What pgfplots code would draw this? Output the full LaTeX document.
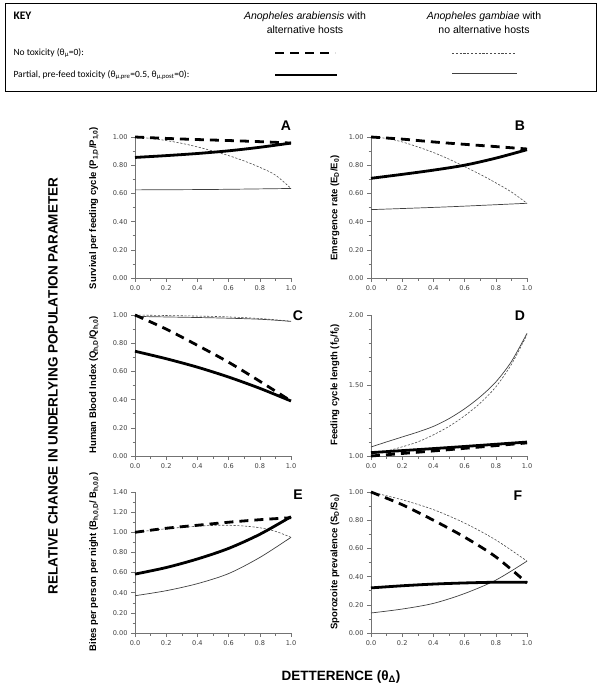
\documentclass[border=0pt]{standalone}
\usepackage{pgfplots}
\pgfplotsset{compat=1.18}
\usepackage{fontspec}
\setmainfont{Liberation Sans}
\newfontfamily\keyfont{Carlito}
\newfontfamily\tickfont{DejaVu Sans}
\pgfplotsset{
  panel/.style={
    width=156pt, height=141pt, scale only axis,
    axis lines*=left,
    axis line style={black!55, line width=0.6pt},
    tick style={black!55, line width=0.5pt},
    tick align=outside,
    major tick length=4pt, minor tick length=2.5pt,
    xmin=0, xmax=1,
    xtick={0,0.2,0.4,0.6,0.8,1.0},
    minor x tick num=1,
    minor y tick num=1,
    /pgf/number format/assume math mode=true,
    ticklabel style={font=\tickfont\fontsize{6.6}{7}\selectfont, text=black!75},
    xticklabel={\pgfmathprintnumber[fixed,fixed zerofill,precision=1]{\tick}},
    yticklabel={\pgfmathprintnumber[fixed,fixed zerofill,precision=2]{\tick}},
    clip=false,
  },
  aN/.style={black, line width=2.8pt, dash pattern=on 9pt off 6pt, smooth},
  aP/.style={black, line width=2.8pt, smooth},
  gN/.style={black!70, line width=0.6pt, dash pattern=on 2.2pt off 1.6pt, smooth},
  gP/.style={black!75, line width=0.7pt, smooth},
}
\begin{document}
\begin{tikzpicture}[x=1pt,y=1pt]
\useasboundingbox (0pt,0pt) rectangle (600pt,-690pt);
% ---------- KEY ----------
\draw[line width=0.8pt] (5pt,-3pt) rectangle (596pt,-91pt);
\node[anchor=west,font=\keyfont\bfseries\fontsize{11.5}{12}\selectfont] at (10pt,-16pt) {KEY};
\node[align=center,font=\fontsize{10.5}{14}\selectfont] at (305pt,-23pt) {\textit{Anopheles arabiensis} with\\alternative hosts};
\node[align=center,font=\fontsize{10.5}{14}\selectfont] at (484pt,-23pt) {\textit{Anopheles gambiae} with\\no alternative hosts};
\node[anchor=west,font=\keyfont\fontsize{9.5}{11}\selectfont] at (10pt,-53pt) {No toxicity (θ\textsubscript{μ}=0):};
\node[anchor=west,font=\keyfont\fontsize{9.5}{11}\selectfont] at (10pt,-75pt) {Partial, pre-feed toxicity (θ\textsubscript{μ,pre}=0.5, θ\textsubscript{μ,post}=0):};
\draw[black, line width=2.8pt, dash pattern=on 9pt off 6pt] (275pt,-53pt) -- (335pt,-53pt);
\draw[black!70, line width=0.6pt, dash pattern=on 2.2pt off 1.6pt] (452pt,-53pt) -- (516pt,-53pt);
\draw[black, line width=2.8pt] (275pt,-75pt) -- (337pt,-75pt);
\draw[black!75, line width=0.7pt] (452pt,-73pt) -- (517pt,-73pt);

% ---------- A ----------
\begin{axis}[panel, at={(135pt,-278pt)}, anchor=south west, ymin=0, ymax=1, ytick={0,0.2,0.4,0.6,0.8,1.0}]
\addplot[gP] coordinates {(0,0.625)(0.5,0.628)(1,0.635)};
\addplot[gN] coordinates {(0,1)(0.1,0.99)(0.2,0.975)(0.3,0.955)(0.4,0.93)(0.5,0.90)(0.6,0.868)(0.7,0.83)(0.8,0.785)(0.9,0.73)(1,0.635)};
\addplot[aP] coordinates {(0,0.855)(0.2,0.868)(0.4,0.883)(0.6,0.902)(0.8,0.927)(1,0.957)};
\addplot[aN] coordinates {(0,1)(0.2,0.99)(0.4,0.982)(0.6,0.975)(0.8,0.967)(1,0.957)};
\end{axis}
% ---------- B ----------
\begin{axis}[panel, at={(371pt,-278pt)}, anchor=south west, ymin=0, ymax=1, ytick={0,0.2,0.4,0.6,0.8,1.0}]
\addplot[gP] coordinates {(0,0.485)(0.5,0.505)(1,0.53)};
\addplot[gN] coordinates {(0,1)(0.1,0.99)(0.2,0.965)(0.3,0.93)(0.4,0.89)(0.5,0.843)(0.6,0.79)(0.7,0.735)(0.8,0.675)(0.9,0.61)(1,0.53)};
\addplot[aP] coordinates {(0,0.707)(0.2,0.735)(0.4,0.765)(0.6,0.80)(0.8,0.85)(1,0.91)};
\addplot[aN] coordinates {(0,1)(0.2,0.985)(0.4,0.965)(0.6,0.948)(0.8,0.932)(1,0.915)};
\end{axis}
% ---------- C ----------
\begin{axis}[panel, at={(135pt,-456pt)}, anchor=south west, ymin=0, ymax=1, ytick={0,0.2,0.4,0.6,0.8,1.0}]
\addplot[gP] coordinates {(0,0.99)(0.5,0.98)(0.8,0.97)(1,0.955)};
\addplot[gN] coordinates {(0,1)(0.5,0.99)(0.8,0.975)(1,0.955)};
\addplot[aP] coordinates {(0,0.743)(0.2,0.69)(0.4,0.63)(0.6,0.56)(0.8,0.48)(1,0.39)};
\addplot[aN] coordinates {(0,1)(0.2,0.90)(0.4,0.785)(0.6,0.665)(0.8,0.53)(1,0.39)};
\end{axis}
% ---------- D ----------
\begin{axis}[panel, at={(371pt,-456pt)}, anchor=south west, ymin=1, ymax=2, ytick={1,1.5,2}, minor y tick num=4]
\addplot[gP] coordinates {(0,1.064)(0.1,1.10)(0.2,1.135)(0.3,1.17)(0.4,1.21)(0.5,1.265)(0.6,1.335)(0.7,1.42)(0.8,1.525)(0.9,1.67)(1,1.87)};
\addplot[gN] coordinates {(0,1.01)(0.1,1.035)(0.2,1.065)(0.3,1.10)(0.4,1.15)(0.5,1.21)(0.6,1.285)(0.7,1.375)(0.8,1.49)(0.9,1.65)(1,1.86)};
\addplot[aP] coordinates {(0,1.024)(0.5,1.06)(1,1.099)};
\addplot[aN] coordinates {(0,1.0)(0.5,1.045)(1,1.093)};
\end{axis}
% ---------- E ----------
\begin{axis}[panel, at={(135pt,-633pt)}, anchor=south west, ymin=0, ymax=1.4, ytick={0,0.2,0.4,0.6,0.8,1.0,1.2,1.4}]
\addplot[gP] coordinates {(0,0.37)(0.2,0.42)(0.4,0.49)(0.6,0.59)(0.8,0.75)(1,0.95)};
\addplot[gN] coordinates {(0,1.0)(0.2,1.035)(0.4,1.06)(0.5,1.068)(0.6,1.07)(0.7,1.062)(0.8,1.045)(0.9,1.01)(1,0.95)};
\addplot[aP] coordinates {(0,0.585)(0.2,0.65)(0.4,0.735)(0.6,0.84)(0.8,0.98)(1,1.155)};
\addplot[aN] coordinates {(0,1.0)(0.2,1.04)(0.4,1.07)(0.6,1.10)(0.8,1.125)(1,1.145)};
\end{axis}
% ---------- F ----------
\begin{axis}[panel, at={(371pt,-633pt)}, anchor=south west, ymin=0, ymax=1, ytick={0,0.2,0.4,0.6,0.8,1.0}]
\addplot[gP] coordinates {(0,0.142)(0.2,0.17)(0.4,0.21)(0.6,0.28)(0.8,0.375)(1,0.51)};
\addplot[gN] coordinates {(0,1)(0.2,0.945)(0.4,0.875)(0.6,0.78)(0.8,0.66)(1,0.51)};
\addplot[aP] coordinates {(0,0.32)(0.2,0.335)(0.4,0.347)(0.6,0.355)(0.8,0.36)(1,0.36)};
\addplot[aN] coordinates {(0,1)(0.2,0.91)(0.4,0.80)(0.6,0.68)(0.8,0.54)(1,0.355)};
\end{axis}

% ---------- panel y labels ----------
\begin{scope}[every node/.style={rotate=90, font=\bfseries\fontsize{9.5}{10}\selectfont}]
\node at (94pt,-208pt) {Survival per feeding cycle (P\textsubscript{1,D}/P\textsubscript{1,0})};
\node at (335pt,-208pt) {Emergence rate (E\textsubscript{D}/E\textsubscript{0})};
\node at (94pt,-385pt) {Human Blood Index (Q\textsubscript{h,D}/Q\textsubscript{h,0})};
\node at (335pt,-385pt) {Feeding cycle length (f\textsubscript{D}/f\textsubscript{0})};
\node at (94pt,-562pt) {Bites per person per night (B\textsubscript{h,0,D}/ B\textsubscript{h,0,0})};
\node at (335pt,-562pt) {Sporozoite prevalence (S\textsubscript{D}/S\textsubscript{0})};
\end{scope}
% ---------- panel letters ----------
\begin{scope}[every node/.style={font=\bfseries\fontsize{14}{14}\selectfont}]
\node at (286pt,-126pt) {A};
\node at (520pt,-126pt) {B};
\node at (298pt,-316pt) {C};
\node at (520pt,-316pt) {D};
\node at (298pt,-495pt) {E};
\node at (518pt,-496pt) {F};
\end{scope}
% ---------- global labels ----------
\node[rotate=90, font=\bfseries\fontsize{13.5}{14}\selectfont] at (53pt,-386pt) {RELATIVE CHANGE IN UNDERLYING POPULATION PARAMETER};
\node[font=\bfseries\fontsize{13.5}{14}\selectfont] at (341pt,-677pt) {DETTERENCE (θ\textsubscript{Δ})};
\end{tikzpicture}
\end{document}
